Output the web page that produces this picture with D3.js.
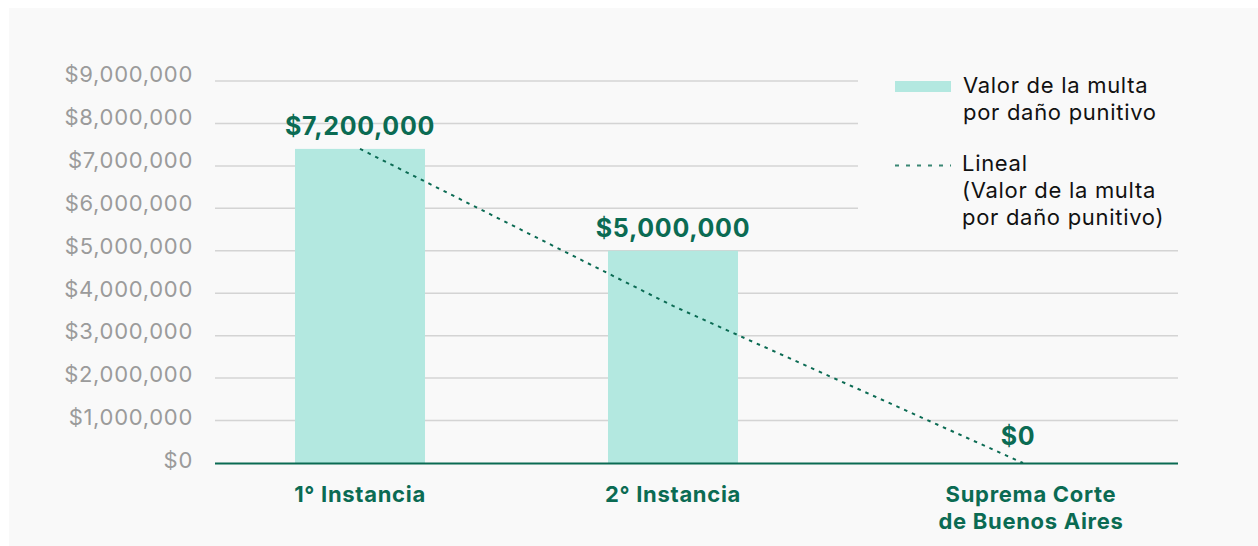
<!DOCTYPE html>
<html>
<head>
<meta charset="utf-8">
<script src="https://cdn.jsdelivr.net/npm/d3@7"></script>
<style>
  body { margin: 0; background: #ffffff; }
  svg { display: block; font-family: Inter, "Noto Sans", sans-serif; letter-spacing: 0.7px; }
</style>
</head>
<body>
<div id="container"></div>
<script>
// data
let categories = ["1° Instancia", "2° Instancia", "Suprema Corte|de Buenos Aires"];
let barValues = [7400000, 5000000, 0];
let barLabels = ["$7,200,000", "$5,000,000", "$0"];
let trendValues = [7400000, 3700000, 0];
let yTicks = [0, 1000000, 2000000, 3000000, 4000000, 5000000, 6000000, 7000000, 8000000, 9000000];
let legendBar = ["Valor de la multa", "por daño punitivo"];
let legendLine = ["Lineal", "(Valor de la multa", "por daño punitivo)"];

let green = "#0b6b53";
let barColor = "#b3e8e0";
let barW = 130;

let svg = d3.select("#container")
  .append("svg")
  .attr("width", 1258)
  .attr("height", 546);

svg.append("rect")
  .attr("x", 9)
  .attr("y", 8)
  .attr("width", 1249)
  .attr("height", 538)
  .attr("fill", "#f9f9f9");

let y = d3.scaleLinear().domain([0, 9000000]).range([463, 81]);
// labels sit a touch above their gridlines, and drift a little
let yLab = d3.scaleLinear().domain([0, 9000000]).range([459.5, 74]);
// category centres (the third is set a bit further right in the original)
let x = d3.scaleOrdinal().domain(categories).range([360, 673, 1026]);

// gridlines
svg.append("g")
  .selectAll("line")
  .data(yTicks.filter(d => d > 0))
  .enter()
  .append("line")
  .attr("x1", 215)
  .attr("x2", 1178)
  .attr("y1", d => y(d))
  .attr("y2", d => y(d))
  .attr("stroke", "#d4d4d4")
  .attr("stroke-width", 1.5);

// y labels
let yAxis = d3.axisLeft(yLab).tickValues(yTicks).tickSize(0).tickPadding(0)
  .tickFormat(d => "$" + d3.format(",")(d));
let ya = svg.append("g").attr("transform", "translate(193,0)").call(yAxis);
ya.select(".domain").remove();
ya.selectAll("text")
  .attr("font-family", "Inter, sans-serif")
  .attr("font-size", 22)
  .attr("fill", "#9b9b9b")
  .attr("dy", "0.36em");

// bars
svg.append("g")
  .selectAll("rect")
  .data(barValues)
  .enter()
  .append("rect")
  .attr("x", (d, i) => x(categories[i]) - barW / 2)
  .attr("y", d => y(d))
  .attr("width", barW)
  .attr("height", d => 463 - y(d))
  .attr("fill", barColor);

// value labels
svg.append("g")
  .selectAll("text")
  .data(barValues)
  .enter()
  .append("text")
  .text((d, i) => barLabels[i])
  .attr("x", (d, i) => x(categories[i]) - (i === 2 ? 8 : 0))
  .attr("y", d => y(d) - (d === 0 ? 18 : 14))
  .attr("text-anchor", "middle")
  .attr("font-size", 25)
  .attr("font-weight", "bold")
  .attr("fill", green);

// x axis line
svg.append("line")
  .attr("x1", 215)
  .attr("x2", 1178)
  .attr("y1", 463.5)
  .attr("y2", 463.5)
  .attr("stroke", green)
  .attr("stroke-width", 2);

// category labels
let cats = svg.append("g")
  .selectAll("text")
  .data(categories)
  .enter()
  .append("text")
  .attr("x", d => x(d) + (d.includes("|") ? 5 : 0))
  .attr("y", 502)
  .attr("text-anchor", "middle")
  .attr("font-size", 22)
  .attr("font-weight", "bold")
  .attr("fill", green);
cats.selectAll("tspan")
  .data(d => d.split("|"))
  .enter()
  .append("tspan")
  .attr("x", function () { return d3.select(this.parentNode).attr("x"); })
  .attr("dy", (d, i) => i === 0 ? 0 : 27)
  .text(d => d);

// trend line
let line = d3.line()
  .x((d, i) => x(categories[i]) - (i === 2 ? 3 : 0))
  .y(d => y(d));
svg.append("path")
  .datum(trendValues)
  .attr("d", line)
  .attr("fill", "none")
  .attr("stroke", green)
  .attr("stroke-width", 2)
  .attr("stroke-dasharray", "3.5,5");

// legend
let legend = svg.append("g");
legend.append("rect")
  .attr("x", 858)
  .attr("y", 66)
  .attr("width", 330)
  .attr("height", 176)
  .attr("fill", "#f9f9f9");
legend.append("rect")
  .attr("x", 895)
  .attr("y", 81)
  .attr("width", 56)
  .attr("height", 11)
  .attr("fill", barColor);
legend.append("line")
  .attr("x1", 895)
  .attr("x2", 951)
  .attr("y1", 165.5)
  .attr("y2", 165.5)
  .attr("stroke", green)
  .attr("stroke-width", 2)
  .attr("stroke-dasharray", "4,7")
  .attr("opacity", 0.8);
legend.append("g")
  .selectAll("text")
  .data(legendBar)
  .enter()
  .append("text")
  .text(d => d)
  .attr("x", 963)
  .attr("y", (d, i) => 93 + i * 27)
  .attr("font-size", 22)
  .attr("fill", "#111");
legend.append("g")
  .selectAll("text")
  .data(legendLine)
  .enter()
  .append("text")
  .text(d => d)
  .attr("x", 962)
  .attr("y", (d, i) => 171 + i * 27)
  .attr("font-size", 22)
  .attr("fill", "#111");
</script>
</body>
</html>
